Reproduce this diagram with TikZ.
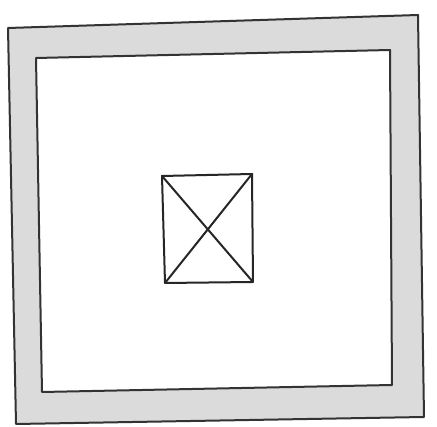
\documentclass[tikz,border=0pt]{standalone}
\begin{document}
\begin{tikzpicture}[x=1pt,y=-1pt,
  wall/.style={fill=black!14,draw=black!80,line width=2pt,line join=round,even odd rule},
  pencil/.style={draw=black!85,line width=2pt,line join=round,line cap=round}]
\useasboundingbox[fill=white] (0,0) rectangle (437,427);
% thick wall band
\path[wall] (8,28) -- (418,15) -- (424,417) -- (16,424) -- cycle
            (36,58) -- (390,50) -- (392,385) -- (42,392) -- cycle;
% central box with cross
\coordinate (a) at (162,176);
\coordinate (b) at (252,174);
\coordinate (c) at (253,282);
\coordinate (d) at (165,283);
\draw[pencil] (a) -- (b) -- (c) -- (d) -- cycle;
\draw[pencil] (a) -- (c);
\draw[pencil] (b) -- (d);
\end{tikzpicture}
\end{document}
